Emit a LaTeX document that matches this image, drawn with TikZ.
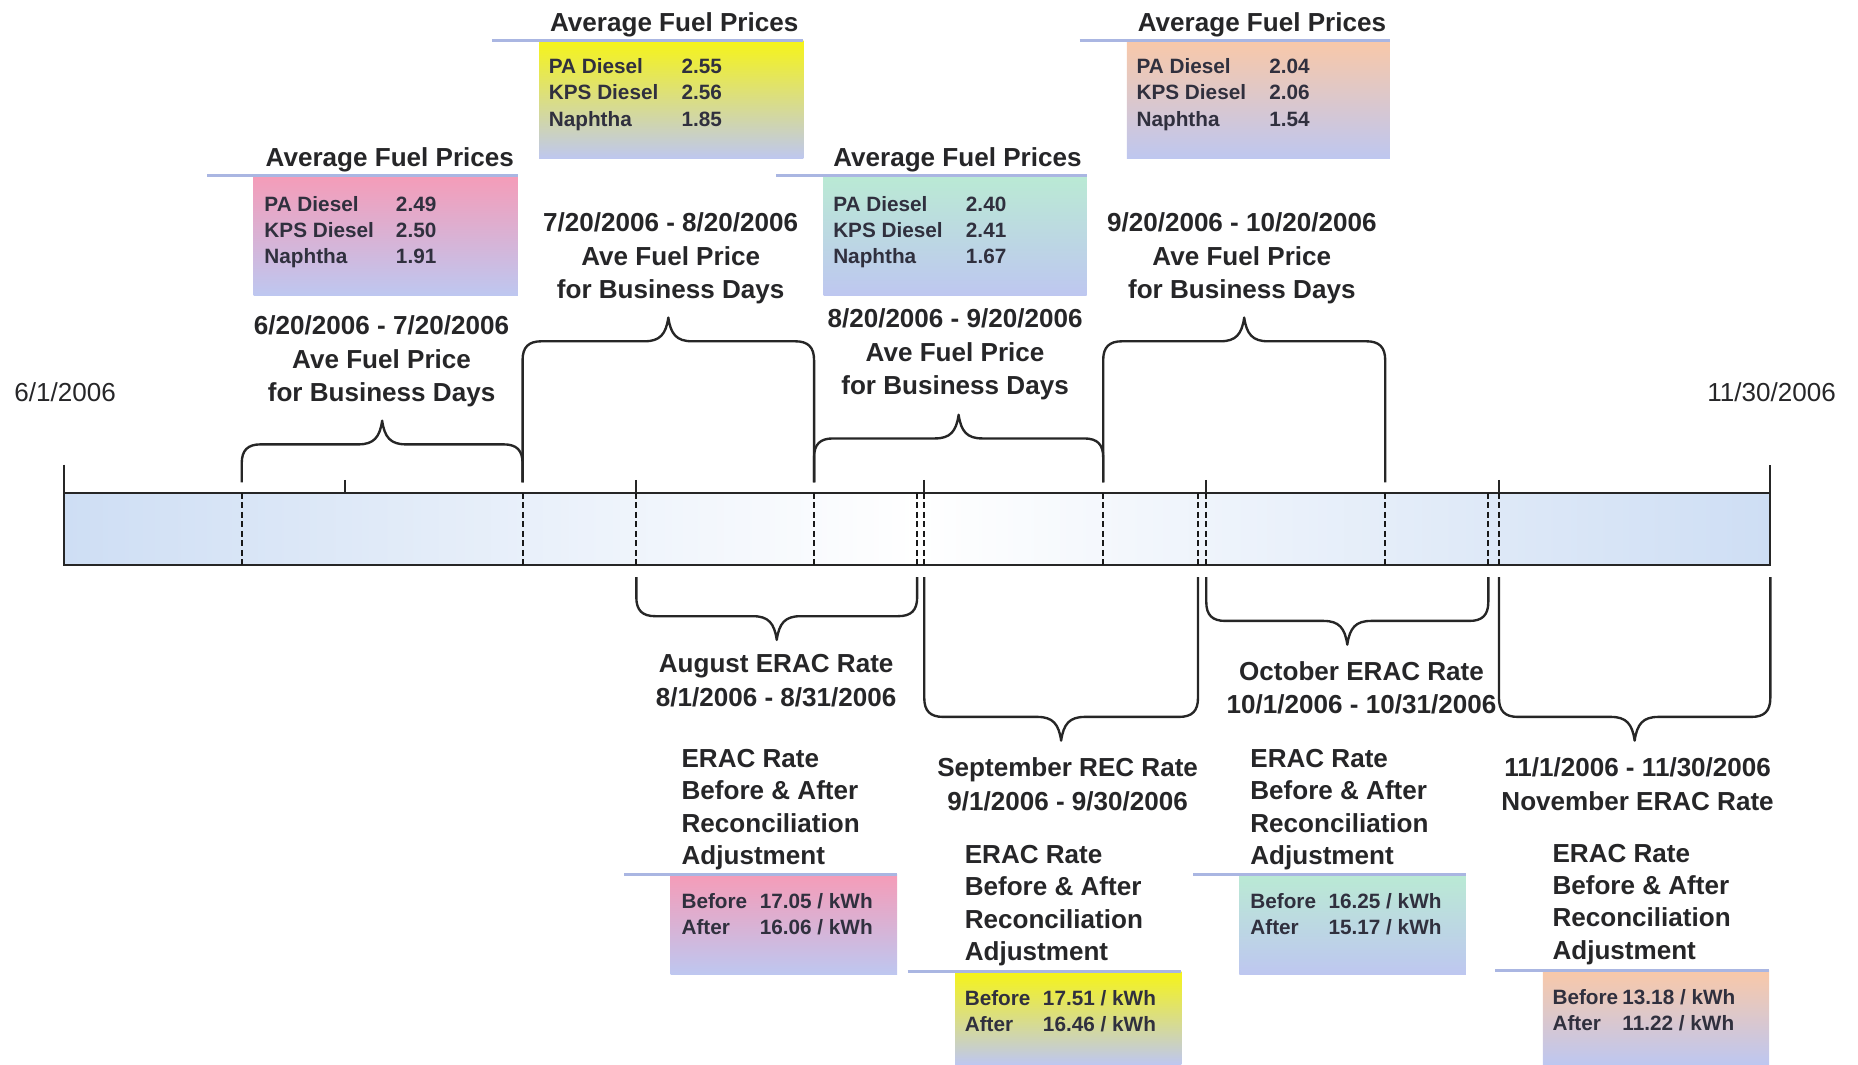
\documentclass[tikz,border=0pt]{standalone}
\usepackage{fontspec}
\setmainfont{Liberation Sans}
\usetikzlibrary{calc}

\definecolor{labelgray}{RGB}{38,38,40}
\definecolor{boxtextgray}{RGB}{48,48,62}
\definecolor{fuelline}{RGB}{170,182,226}
\definecolor{boxblue}{RGB}{190,199,240}
\definecolor{boxpink}{RGB}{245,156,184}
\definecolor{boxyellow}{RGB}{246,244,24}
\definecolor{boxmint}{RGB}{186,234,212}
\definecolor{boxpeach}{RGB}{249,200,168}
\definecolor{barblue}{RGB}{206,222,244}

%% curly bracket over/under a period: #1,#2 ends, #3 foot, #4 level, #5 = 1 up, -1 down
\newcommand{\periodbrace}[5]{%
  \draw[bracket] (#1,#3) -- (#1,{#4+16*(#5)})
    .. controls (#1,{#4+5*(#5)}) and ({#1+5},#4) .. ({#1+16},#4)
    -- ({(#1+#2)/2-20},#4)
    .. controls ({(#1+#2)/2-7},#4) and ({(#1+#2)/2-2},{#4-6*(#5)}) .. ({(#1+#2)/2},{#4-20*(#5)})
    .. controls ({(#1+#2)/2+2},{#4-6*(#5)}) and ({(#1+#2)/2+7},#4) .. ({(#1+#2)/2+20},#4)
    -- ({#2-16},#4)
    .. controls ({#2-5},#4) and (#2,{#4+5*(#5)}) .. (#2,{#4+16*(#5)}) -- (#2,#3);
}

\begin{document}
\begin{tikzpicture}[x=1pt, y=-1pt,
  periodtext/.style={font=\fontsize{22}{28.5}\selectfont\bfseries, text=labelgray,
                     align=center, inner sep=0pt},
  cornerdate/.style={font=\fontsize{22}{26}\selectfont, text=labelgray, inner sep=0pt},
  boxtitle/.style={font=\fontsize{22}{26}\selectfont\bfseries, text=labelgray, inner sep=0pt},
  boxtext/.style={font=\fontsize{17.5}{22}\selectfont\bfseries, text=boxtextgray,
                  align=left, anchor=north west, inner sep=0pt},
  ratehead/.style={font=\fontsize{22}{27.3}\selectfont\bfseries, text=labelgray,
                   align=left, anchor=north west, inner sep=0pt},
  topline/.style={draw=fuelline, line width=3pt},
  bracket/.style={draw=black!85, line width=2pt, line join=round},
  barline/.style={draw=black!85, line width=1.5pt},
  divider/.style={draw=black!90, line width=1.6pt, dash pattern=on 5pt off 3pt}
]
\useasboundingbox (0,0) rectangle (1568,898);

%% Timeline bar
\shade[left color=barblue, right color=barblue, middle color=white] (54,416) rectangle (1494,477);
\draw[barline] (54,392) -- (54,477) -- (1494,477) -- (1494,392);
\draw[barline] (54,416) -- (1494,416);
\foreach \x in {204,441,537,687,774,780,931,1011,1018,1169,1256,1265}
  \draw[divider] (\x,416) -- (\x,477);
\foreach \x in {291,537,780,1018,1265}
  \draw[barline] (\x,405) -- (\x,416);

\node[cornerdate] (start) at (55,331) {6/1/2006};
\node[cornerdate] (end) at (1495,331) {11/30/2006};

%% Fuel price periods above the bar
\periodbrace{204}{441}{407}{375}{1}
\periodbrace{441}{687}{407}{288}{1}
\periodbrace{687}{931}{407}{370}{1}
\periodbrace{931}{1169}{407}{288}{1}

\node[periodtext] (period1) at (322,305) {6/20/2006 - 7/20/2006\\Ave Fuel Price\\for Business Days};
\node[periodtext] (period2) at (566,218) {7/20/2006 - 8/20/2006\\Ave Fuel Price\\for Business Days};
\node[periodtext] (period3) at (806,299) {8/20/2006 - 9/20/2006\\Ave Fuel Price\\for Business Days};
\node[periodtext] (period4) at (1048,218) {9/20/2006 - 10/20/2006\\Ave Fuel Price\\for Business Days};

%% Average fuel price boxes
\shade[top color=boxpink, bottom color=boxblue] (214,148) rectangle (437,249);
\draw[topline] (175,148) -- (437,148);
\node[boxtitle] (title1) at (329,135) {Average Fuel Prices};
\node[boxtext] (fuel1) at (223,165.5) {\makebox[111pt][l]{PA Diesel}2.49\\
  \makebox[111pt][l]{KPS Diesel}2.50\\ \makebox[111pt][l]{Naphtha}1.91};

\shade[top color=boxyellow, bottom color=boxblue] (455,34) rectangle (678,134);
\draw[topline] (415,34) -- (678,34);
\node[boxtitle] (title2) at (569,21) {Average Fuel Prices};
\node[boxtext] (fuel2) at (463,49.5) {\makebox[112pt][l]{PA Diesel}2.55\\
  \makebox[112pt][l]{KPS Diesel}2.56\\ \makebox[112pt][l]{Naphtha}1.85};

\shade[top color=boxmint, bottom color=boxblue] (695,148) rectangle (917,249);
\draw[topline] (655,148) -- (917,148);
\node[boxtitle] (title3) at (808,135) {Average Fuel Prices};
\node[boxtext] (fuel3) at (703,165.5) {\makebox[112pt][l]{PA Diesel}2.40\\
  \makebox[112pt][l]{KPS Diesel}2.41\\ \makebox[112pt][l]{Naphtha}1.67};

\shade[top color=boxpeach, bottom color=boxblue] (951,34) rectangle (1173,134);
\draw[topline] (911,34) -- (1173,34);
\node[boxtitle] (title4) at (1065,21) {Average Fuel Prices};
\node[boxtext] (fuel4) at (959,49.5) {\makebox[112pt][l]{PA Diesel}2.04\\
  \makebox[112pt][l]{KPS Diesel}2.06\\ \makebox[112pt][l]{Naphtha}1.54};

%% ERAC rate months below the bar
\periodbrace{537}{774}{487}{520}{-1}
\periodbrace{780}{1011}{487}{605}{-1}
\periodbrace{1018}{1256}{487}{524}{-1}
\periodbrace{1265}{1494}{487}{605}{-1}

\node[periodtext] (month1) at (655,574.5) {August ERAC Rate\\8/1/2006 - 8/31/2006};
\node[periodtext] (month2) at (901,662) {September REC Rate\\9/1/2006 - 9/30/2006};
\node[periodtext] (month3) at (1149,580.5) {October ERAC Rate\\10/1/2006 - 10/31/2006};
\node[periodtext] (month4) at (1382,662) {11/1/2006 - 11/30/2006\\November ERAC Rate};

%% Reconciliation adjustment boxes
\node[ratehead] (head1) at (575,632) {ERAC Rate\\Before \& After\\Reconciliation\\Adjustment};
\shade[top color=boxpink, bottom color=boxblue] (566,738) rectangle (757,822);
\draw[topline] (527,738) -- (757,738);
\node[boxtext] (rate1) at (575,753.5) {\makebox[66pt][l]{Before}17.05 / kWh\\
  \makebox[66pt][l]{After}16.06 / kWh};

\node[ratehead] (head2) at (814,713) {ERAC Rate\\Before \& After\\Reconciliation\\Adjustment};
\shade[top color=boxyellow, bottom color=boxblue] (806,820) rectangle (997,898);
\draw[topline] (766,820) -- (997,820);
\node[boxtext] (rate2) at (814,835.5) {\makebox[66pt][l]{Before}17.51 / kWh\\
  \makebox[66pt][l]{After}16.46 / kWh};

\node[ratehead] (head3) at (1055,632) {ERAC Rate\\Before \& After\\Reconciliation\\Adjustment};
\shade[top color=boxmint, bottom color=boxblue] (1046,738) rectangle (1237,822);
\draw[topline] (1007,738) -- (1237,738);
\node[boxtext] (rate3) at (1055,753.5) {\makebox[66pt][l]{Before}16.25 / kWh\\
  \makebox[66pt][l]{After}15.17 / kWh};

\node[ratehead] (head4) at (1310,712) {ERAC Rate\\Before \& After\\Reconciliation\\Adjustment};
\shade[top color=boxpeach, bottom color=boxblue] (1302,819) rectangle (1493,898);
\draw[topline] (1262,819) -- (1493,819);
\node[boxtext] (rate4) at (1310,834.5) {\makebox[59pt][l]{Before}13.18 / kWh\\
  \makebox[59pt][l]{After}11.22 / kWh};
\end{tikzpicture}
\end{document}
